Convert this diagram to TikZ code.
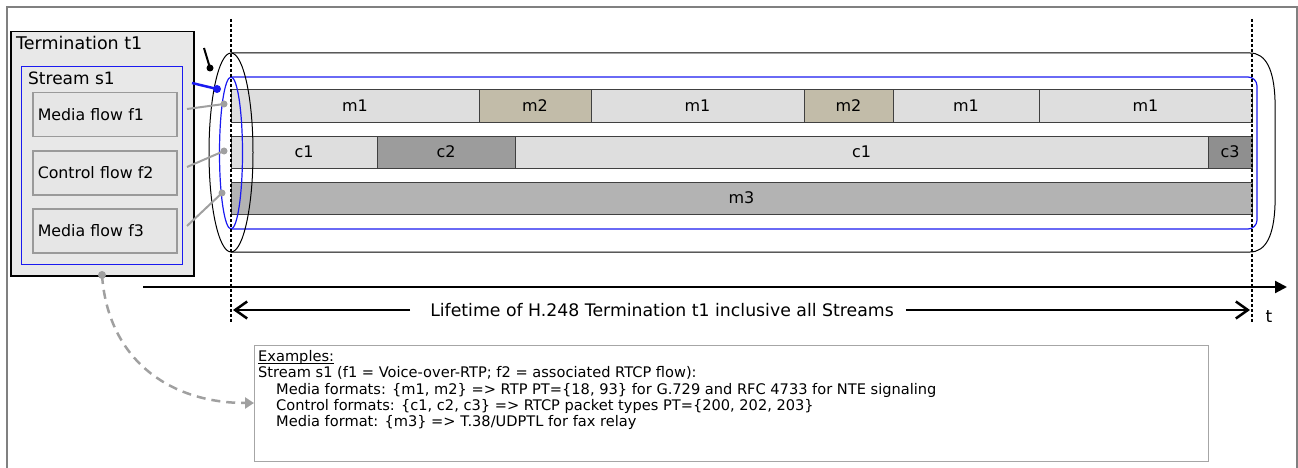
\documentclass[tikz,border=0pt]{standalone}
\usepackage{fontspec}
\setmainfont{DejaVu Sans}
\usetikzlibrary{arrows.meta}
\definecolor{termfill}{HTML}{E8E8E8}
\definecolor{flowfill}{HTML}{E6E6E6}
\definecolor{flowline}{HTML}{9A9A9A}
\definecolor{mone}{HTML}{DEDEDE}
\definecolor{mtwo}{HTML}{C2BCA9}
\definecolor{ctwo}{HTML}{9C9C9C}
\definecolor{cthree}{HTML}{8F8F8F}
\definecolor{mthree}{HTML}{B3B3B3}
\definecolor{conngray}{HTML}{A0A0A0}
\definecolor{streamblue}{HTML}{1A1AF0}
\newcommand{\seg}[7]{%
  \draw[segbox, fill=#6] (#2,#4) rectangle (#3,#5);
  \node[seglabel] (#1) at ({(#2+#3)/2},{(#4+#5)/2}) {#7};}
\newcommand{\myul}[1]{\leavevmode\setbox0\hbox{#1}\rlap{\rule[-2.6pt]{\wd0}{0.9pt}}\box0}
\begin{document}
\begin{tikzpicture}[x=1pt,y=-1pt,
  font=\fontsize{16}{17}\selectfont,
  segbox/.style={draw=black!75, line width=0.8pt},
  seglabel/.style={inner sep=0pt},
  flowbox/.style={draw=flowline, fill=flowfill, line width=1.5pt, anchor=north west,
    minimum width=144pt, minimum height=44pt, text width=134pt, inner xsep=5pt, align=left,
    font=\fontsize{15.8}{17}\selectfont},
  gconn/.style={draw=conngray, line width=2pt},
  gdot/.style={fill=conngray},
  vdash/.style={line width=1.4pt, dash pattern=on 3pt off 2pt},
  lifearrow/.style={line width=2.5pt, -{Straight Barb[length=12pt,width=17pt,line width=2.5pt]}},
]
\useasboundingbox (0,0) rectangle (1298,468);
% outer frame
\draw[black!50, line width=1.2pt] (7,468) -- (7,7) -- (1297,7) -- (1297,468);

% termination
\node[draw=black, fill=termfill, line width=1.5pt, anchor=north west, minimum width=183pt, minimum height=244pt, inner sep=0pt] (term) at (10,31) {};
\node[anchor=west, inner sep=0pt, font=\fontsize{17.5}{19}\selectfont] (termlabel) at (16,43) {Termination t1};
\node[draw=streamblue, line width=1.2pt, anchor=north west, minimum width=161pt, minimum height=198pt, inner sep=0pt] (stream) at (21,66) {};
\node[anchor=west, inner sep=0pt, font=\fontsize{17}{19}\selectfont] (streamlabel) at (28,78) {Stream s1};
\node[flowbox] (f1) at (32,92) {Media flow f1};
\node[flowbox] (f2) at (32,150) {Control flow f2};
\node[flowbox] (f3) at (32,208) {Media flow f3};

% cylinder outer
\draw[black, line width=1pt] (231,53) -- (1250,53) .. controls (1266,53) and (1274,70) .. (1275,100) -- (1275,205) .. controls (1274,235) and (1266,252) .. (1250,252) -- (231,252);
% blue stream tube
\draw[streamblue, line width=1.2pt, rounded corners=9pt] (231,77) -- (1257,77) -- (1257,229) -- (231,229);

% bars row m
\seg{m1a}{231}{479}{89}{122}{mone}{m1}
\seg{m2a}{479}{591}{89}{122}{mtwo}{m2}
\seg{m1b}{591}{804}{89}{122}{mone}{m1}
\seg{m2b}{804}{893}{89}{122}{mtwo}{m2}
\seg{m1c}{893}{1039}{89}{122}{mone}{m1}
\seg{m1d}{1039}{1252}{89}{122}{mone}{m1}
% row c
\seg{c1a}{231}{377}{136}{168}{mone}{c1}
\seg{c2a}{377}{515}{136}{168}{ctwo}{c2}
\seg{c1b}{515}{1208}{136}{168}{mone}{c1}
\seg{c3a}{1208}{1252}{136}{168}{cthree}{c3}
% row m3
\seg{m3a}{231}{1252}{182}{214}{mthree}{m3}

% ellipses
\draw[black, line width=1pt] (231,152.5) ellipse [x radius=22, y radius=99.5];
\draw[streamblue, line width=1.2pt] (231,153) ellipse [x radius=11.5, y radius=76];

% vertical dashed lines
\coordinate (vtl) at (231,19);
\coordinate (vbl) at (231,322);
\coordinate (vtr) at (1252,19);
\coordinate (vbr) at (1252,322);
\draw[vdash] (vtl) -- (vbl);
\draw[vdash] (vtr) -- (vbr);

% pointers
\coordinate (bk1) at (204,48);
\coordinate (bk2) at (210,68);
\draw[line width=2pt] (bk1) -- (bk2);
\fill (bk2) circle (3.5);
\coordinate (bl1) at (192,83);
\coordinate (bl2) at (217,89);
\draw[streamblue, line width=2.5pt] (bl1) -- (bl2);
\fill[streamblue] (bl2) circle (4);

% flow connectors
\coordinate (s1) at (187,109); \coordinate (e1) at (224,104);
\coordinate (s2) at (187,167); \coordinate (e2) at (224,151);
\coordinate (s3) at (187,226); \coordinate (e3) at (222,193);
\draw[gconn] (s1) -- (e1); \fill[gdot] (e1) circle (3.5);
\draw[gconn] (s2) -- (e2); \fill[gdot] (e2) circle (3.5);
\draw[gconn] (s3) -- (e3); \fill[gdot] (e3) circle (3.5);

% time axis
\coordinate (ta) at (143,287);
\coordinate (tb) at (1287,287);
\draw[line width=2.2pt, -{Triangle[length=12pt,width=12pt]}] (ta) -- (tb);
\node[inner sep=0pt, font=\fontsize{17}{19}\selectfont] (tlabel) at (1269,317) {t};

% lifetime
\node[inner sep=0pt, font=\fontsize{17.3}{19}\selectfont] (life) at (662,310) {Lifetime of H.248 Termination t1 inclusive all Streams};
\coordinate (lstart) at (233,310);
\coordinate (lend) at (1250,310);
\draw[lifearrow] (life.west) ++(-20,0) -- (lstart);
\draw[lifearrow] (life.east) ++(12,0) -- (lend);

% examples
\node[draw=black!35, line width=1.2pt, anchor=north west, minimum width=954pt, minimum height=116pt, inner sep=0pt] (exbox) at (254,345) {};
\node[anchor=north west, inner sep=0pt, align=left, font=\fontsize{14.6}{16.2}\selectfont] (extext) at (258,350.5) {%
\myul{Examples:}\\
Stream s1 (f1 = Voice-over-RTP; f2 = associated RTCP flow):\\
\hspace*{18pt}Media formats: \{m1, m2\} => RTP PT=\{18, 93\} for G.729 and RFC 4733 for NTE signaling\\
\hspace*{18pt}Control formats: \{c1, c2, c3\} => RTCP packet types PT=\{200, 202, 203\}\\
\hspace*{18pt}Media format: \{m3\} => T.38/UDPTL for fax relay};

% dashed curved arrow
\coordinate (dstart) at (102,275);
\coordinate (dend) at (254,403);
\fill[conngray] (dstart) circle (4);
\draw[conngray, line width=2.5pt, dash pattern=on 9pt off 6pt, -{Triangle[length=9pt,width=11pt]}] (dstart) .. controls (108,360) and (170,403) .. (dend);
\end{tikzpicture}
\end{document}
